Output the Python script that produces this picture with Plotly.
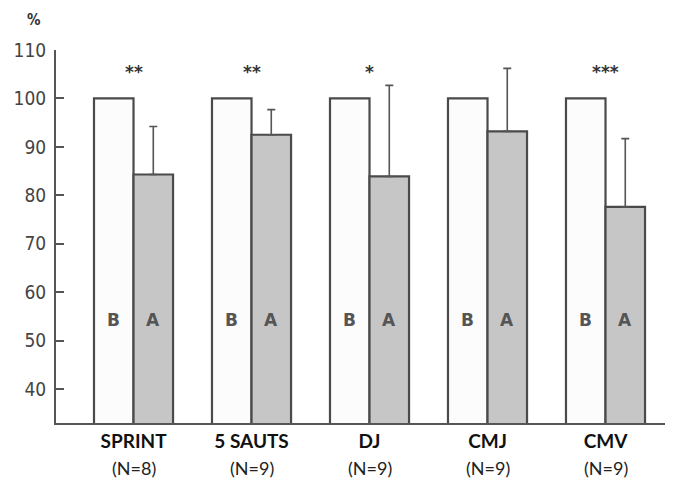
import plotly.graph_objects as go

categories = ["SPRINT", "5 SAUTS", "DJ", "CMJ", "CMV"]
n_labels = ["(N=8)", "(N=9)", "(N=9)", "(N=9)", "(N=9)"]
before = [100, 100, 100, 100, 100]
after = [84.3, 92.5, 83.9, 93.2, 77.6]
after_sd = [9.9, 5.2, 18.8, 13.0, 14.1]
stars = ["**", "**", "*", "", "***"]
yticks = [40, 50, 60, 70, 80, 90, 100, 110]

xs = list(range(len(categories)))
W = 0.335
edge = "#4a4a4a"

fig = go.Figure()
fig.add_trace(go.Bar(x=[x - W / 2 for x in xs], y=before, width=W,
                     marker=dict(color="#fcfcfc", line=dict(color=edge, width=2.2)),
                     showlegend=False))
fig.add_trace(go.Bar(x=[x + W / 2 for x in xs], y=after, width=W,
                     marker=dict(color="#c6c6c6", line=dict(color=edge, width=2.2)),
                     error_y=dict(type="data", array=after_sd, symmetric=False,
                                  arrayminus=[0] * 5, color="#555555",
                                  thickness=1.6, width=4),
                     showlegend=False))

ann = []
for i, c in enumerate(categories):
    ann.append(dict(x=i - W / 2, y=54.3, text="<b>B</b>", showarrow=False,
                    font=dict(family="DejaVu Sans", size=17, color="#555555")))
    ann.append(dict(x=i + W / 2, y=54.3, text="<b>A</b>", showarrow=False,
                    font=dict(family="DejaVu Sans", size=17, color="#555555")))
    if stars[i]:
        ann.append(dict(x=i, y=105.4, text="<b>%s</b>" % stars[i], showarrow=False,
                        font=dict(family="DejaVu Sans", size=17, color="#333333")))
    ann.append(dict(x=i, xref="x", y=0, yref="paper", yshift=-45, text=n_labels[i],
                    showarrow=False, yanchor="middle", borderpad=0,
                    font=dict(family="Lato", size=18, color="#222222")))
ann.append(dict(x=0, xref="paper", xshift=-31, y=110, yshift=30, text="<b>%</b>",
                showarrow=False, font=dict(family="DejaVu Sans Condensed", size=15, color="#333333")))

# the page body adds an 8px margin, so the figure is sized to fit the remaining window
fig.update_layout(
    width=665, height=471,
    margin=dict(l=48, r=0, t=42, b=56),
    paper_bgcolor="white", plot_bgcolor="white",
    barmode="overlay",
    annotations=ann,
    xaxis=dict(range=[-0.657, 4.572], tickvals=xs, automargin=False,
               ticktext=["<b>%s</b>" % c for c in categories],
               showline=True, linecolor="#555555", linewidth=2,
               showgrid=False, zeroline=False, ticks="",
               tickfont=dict(family="Lato", size=19, color="#111111")),
    yaxis=dict(range=[33.0, 110], tickvals=yticks, automargin=False,
               showline=True, linecolor="#555555", linewidth=2,
               showgrid=False, zeroline=False, ticks="inside", ticklen=8,
               tickwidth=2, tickcolor="#555555", ticklabelstandoff=4,
               tickfont=dict(family="DejaVu Sans Condensed", size=19, color="#444444")),
)

fig.write_html("out.html")
